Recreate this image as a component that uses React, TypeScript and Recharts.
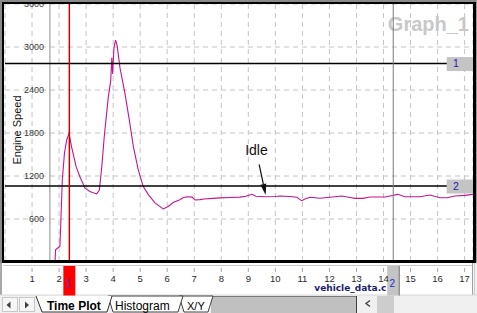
import React from 'react';
import { LineChart, Line, XAxis, YAxis, CartesianGrid, ReferenceLine, ReferenceDot } from 'recharts';

// engine speed trace
const timeSec = [
  1.85, 1.87, 2.03, 2.06, 2.12, 2.2, 2.28, 2.37, 2.46, 2.63, 2.77, 2.96, 3.14, 3.39, 3.49, 3.58,
  3.67, 3.82, 3.91, 3.95, 3.98, 4.03, 4.09, 4.15, 4.25, 4.44, 4.6, 4.75, 4.93, 5.11, 5.3, 5.55,
  5.85, 6.04, 6.22, 6.47, 6.58, 6.73, 6.92, 7.03, 7.21, 7.36, 7.69, 7.95, 8.32, 8.69, 8.91, 9.13,
  9.28, 9.62, 9.99, 10.17, 10.54, 10.8, 10.91, 10.98, 11.09, 11.28, 11.65, 12.02, 12.46, 12.76,
  12.94, 13.24, 13.5, 14.05, 14.24, 14.53, 14.79, 15.35, 15.72, 16.09, 16.35, 16.64, 17.01, 17.31,
];
const engineRpm = [
  0, 170, 220, 500, 1150, 1520, 1700, 1795, 1610, 1330, 1190, 1030, 985, 950, 1005, 1330,
  1745, 2300, 2530, 2850, 2625, 2990, 3095, 3015, 2715, 2345, 1975, 1605, 1285, 1055, 940, 825,
  740, 775, 830, 870, 897, 911, 905, 865, 870, 880, 888, 895, 900, 905, 918, 944,
  918, 911, 915, 921, 915, 903, 870, 855, 880, 903, 890, 903, 921, 900,
  888, 888, 907, 907, 921, 944, 911, 911, 935, 897, 897, 921, 930, 944,
];

const xTicks = [1, 2, 3, 4, 5, 6, 7, 8, 9, 10, 11, 12, 13, 14, 15, 16, 17];
const yTicks = [600, 1200, 1800, 2400, 3000, 3600];
const xDomain = [0, 17.31];
const yDomain = [0, 3600];

const startTime = 1.66;
const cursorTimes = [2.38, 14.36];
const cursorNames = ['1', '2'];
const limitRpm = [2769, 1060];
const limitNames = ['1', '2'];
const idleLabel = [9.3, 1492];
const idleArrow = [
  [9.4, 1362],
  [9.64, 935],
];

const data = timeSec.map((t, i) => ({ t, rpm: engineRpm[i] }));

const FONT = '"Liberation Sans", Arial, sans-serif';

function YTick({ y, payload }: any) {
  return (
    <text x={44} y={y} dy={2.8} textAnchor="end" fontSize={9} fill="#3a3a3a" fontFamily={FONT}>
      {payload.value}
    </text>
  );
}

function XTick({ x, y, payload }: any) {
  return (
    <g>
      <line x1={x} x2={x} y1={y + 6} y2={y + 10} stroke="#a8a8a8" />
      <text x={x} y={y + 20} textAnchor="middle" fontSize={9.5} fill="#2a2a2a" fontFamily={FONT}>
        {payload.value}
      </text>
    </g>
  );
}

function EngineLabel({ viewBox }: any) {
  const cx = 20.5;
  const cy = viewBox.y + viewBox.height / 2 - 3;
  return (
    <text x={cx} y={cy} textAnchor="middle" fontSize={11} fill="#111" fontFamily={FONT} transform={`rotate(-90, ${cx}, ${cy})`}>
      Engine Speed
    </text>
  );
}

function FileLabel({ viewBox }: any) {
  return (
    <text x={viewBox.x + 309.3} y={viewBox.y + 28.7} fontSize={9} fontWeight="bold" fill="#1c1c6e" fontFamily='"DejaVu Sans", sans-serif'>
      vehicle_data.c
    </text>
  );
}

function LimitTag({ viewBox, name }: any) {
  const right = viewBox.x + viewBox.width;
  const y = viewBox.y;
  return (
    <g>
      <rect x={right - 26.3} y={y - 6.5} width={26.3} height={14} fill="#c4c4c4" />
      <text x={right - 17} y={y + 3.6} textAnchor="middle" fontSize={10.5} fill="#1c1ca8" fontFamily={FONT}>
        {name}
      </text>
    </g>
  );
}

function CursorTag({ viewBox, name, fill, ink, edge }: any) {
  const cx = viewBox.x;
  const bottom = viewBox.y + viewBox.height;
  return (
    <g>
      <rect x={cx - 6} y={bottom + 4} width={12} height={29.5} fill={fill} />
      {edge && <line x1={cx + 6} x2={cx + 6} y1={bottom + 4} y2={bottom + 33.5} stroke={edge} />}
      <text x={cx - 1} y={bottom + 24.7} textAnchor="middle" fontSize={10} fill={ink} fontFamily={FONT}>
        {name}
      </text>
    </g>
  );
}

function ArrowShape(props: any) {
  const { x1, y1, x2, y2 } = props;
  const dx = x2 - x1;
  const dy = y2 - y1;
  const len = Math.sqrt(dx * dx + dy * dy) || 1;
  const ux = dx / len;
  const uy = dy / len;
  const bx = x2 - ux * 11;
  const by = y2 - uy * 11;
  const nx = -uy * 3;
  const ny = ux * 3;
  return (
    <g>
      <line x1={x1} y1={y1} x2={bx} y2={by} stroke="#111" strokeWidth={1.2} />
      <polygon points={`${x2},${y2} ${bx + nx},${by + ny} ${bx - nx},${by - ny}`} fill="#111" />
    </g>
  );
}

function IdleText(props: any) {
  return (
    <text x={props.cx} y={props.cy} textAnchor="middle" fontSize={14} fill="#111" fontFamily={FONT}>
      Idle
    </text>
  );
}

function Chrome() {
  return (
    <svg width={477} height={313} style={{ position: 'absolute', left: 0, top: 0, zIndex: 0 }}>
      <rect x={0} y={0} width={477} height={313} fill="#f0f0f0" />
      <rect x={4} y={4} width={469} height={258} fill="#ffffff" />
      <text x={469} y={31} textAnchor="end" fontSize={20} fontWeight="bold" fill="#c8c8c8" fontFamily={FONT}>
        Graph_1
      </text>
      {/* x axis strip */}
      <rect x={2} y={263} width={471} height={32} fill="#ffffff" />
      <rect x={0} y={263} width={2} height={32} fill="#a8a8a8" />
      <line x1={3} x2={472} y1={265.5} y2={265.5} stroke="#cccccc" />
      <line x1={472.5} x2={472.5} y1={263} y2={295} stroke="#a0a0a0" />
      <line x1={474.5} x2={474.5} y1={263} y2={295} stroke="#d0d0d0" />
      <line x1={0} x2={477} y1={295} y2={295} stroke="#d8d8d8" />
      {/* sheet tabs */}
      <rect x={2.5} y={297.5} width={15} height={14} fill="#f6f6f6" stroke="#c8c8c8" />
      <rect x={19.5} y={297.5} width={15} height={14} fill="#f6f6f6" stroke="#c8c8c8" />
      <polygon points="6.5,305 10.5,301.5 10.5,308.5" fill="#404040" />
      <polygon points="25,301.5 25,308.5 29,305" fill="#404040" />
      <rect x={211} y={296} width={146} height={17} fill="#c0c0c0" />
      <line x1={211} x2={357} y1={296.5} y2={296.5} stroke="#7a7a7a" />
      <line x1={356.5} x2={356.5} y1={296} y2={313} stroke="#404040" />
      <polyline points="370,300.5 366,303.5 370,306.5" fill="none" stroke="#404040" strokeWidth={1.4} />
      <rect x={377} y={296} width={17} height={17} fill="#cdcdcd" />
      <polygon points="179,296 213,296 208,312 184,312" fill="#ffffff" stroke="#404040" />
      <polygon points="108,296 183,296 178,312 113,312" fill="#ffffff" stroke="#404040" />
      <polygon points="36,296 112,296 107,312 42,312" fill="#ffffff" />
      <polyline points="36,296 42,312 107,312 112,296" fill="none" stroke="#303030" />
      <text x={47} y={310} fontSize={12} fontWeight="bold" fill="#000" fontFamily={FONT}>
        Time Plot
      </text>
      <text x={115} y={310} fontSize={12} fill="#000" fontFamily={FONT}>
        Histogram
      </text>
      <text x={187} y={310} fontSize={11} fill="#000" fontFamily={FONT}>
        X/Y
      </text>
    </svg>
  );
}

function Frame() {
  return (
    <svg width={477} height={313} style={{ position: 'absolute', left: 0, top: 0, pointerEvents: 'none', zIndex: 2 }}>
      <rect x={0} y={0} width={477} height={2} fill="#8a8a8a" />
      <rect x={0} y={0} width={2} height={263} fill="#8a8a8a" />
      <rect x={476} y={0} width={1} height={263} fill="#9a9a9a" />
      <rect x={2} y={2} width={474} height={2} fill="#000" />
      <rect x={2} y={2} width={2} height={261} fill="#000" />
      <rect x={2} y={260} width={474} height={3} fill="#000" />
      <rect x={473} y={2} width={3} height={261} fill="#000" />
    </svg>
  );
}

export default function App() {
  return (
    <div style={{ position: 'absolute', left: 0, top: 0, width: 477, height: 313, overflow: 'hidden' }}>
      <Chrome />
      <div style={{ position: 'absolute', left: 0, top: 0, zIndex: 1 }}>
        <LineChart width={477} height={313} data={data} margin={{ top: 4, right: 4, bottom: 19, left: 4 }}>
          <CartesianGrid stroke="#c4c4c4" strokeDasharray="5 4" />
          <XAxis
            dataKey="t"
            type="number"
            domain={xDomain}
            ticks={xTicks}
            interval={0}
            height={32}
            axisLine={false}
            tickLine={false}
            tickSize={0}
            tickMargin={0}
            tick={XTick}
            allowDataOverflow
            label={FileLabel}
          />
          <YAxis
            type="number"
            domain={yDomain}
            ticks={yTicks}
            interval={0}
            width={1}
            axisLine={false}
            tickLine={false}
            tickSize={0}
            tickMargin={0}
            tick={YTick}
            allowDataOverflow
            label={EngineLabel}
          />
          <ReferenceLine x={startTime} stroke="#a8a8a8" strokeWidth={1.3} />
          <Line type="linear" dataKey="rpm" stroke="#c4168c" strokeWidth={1.1} dot={false} isAnimationActive={false} />
          {limitRpm.map((v, i) => (
            <ReferenceLine key={`lim${i}`} y={v} stroke="#000" strokeWidth={1.5} label={(p: any) => <LimitTag viewBox={p.viewBox} name={limitNames[i]} />} />
          ))}
          <ReferenceLine
            x={cursorTimes[0]}
            stroke="#cc0000"
            strokeWidth={1.5}
            label={(p: any) => <CursorTag viewBox={p.viewBox} name={cursorNames[0]} fill="#ff0000" ink="#5a26c8" />}
          />
          <ReferenceLine
            x={cursorTimes[1]}
            stroke="#7a7a7a"
            strokeWidth={1}
            label={(p: any) => <CursorTag viewBox={p.viewBox} name={cursorNames[1]} fill="#c4c4c4" ink="#1c2ad0" edge="#707070" />}
          />
          <ReferenceLine
            segment={[
              { x: idleArrow[0][0], y: idleArrow[0][1] },
              { x: idleArrow[1][0], y: idleArrow[1][1] },
            ]}
            shape={ArrowShape}
          />
          <ReferenceDot x={idleLabel[0]} y={idleLabel[1]} r={1} shape={IdleText} />
        </LineChart>
      </div>
      <Frame />
    </div>
  );
}
